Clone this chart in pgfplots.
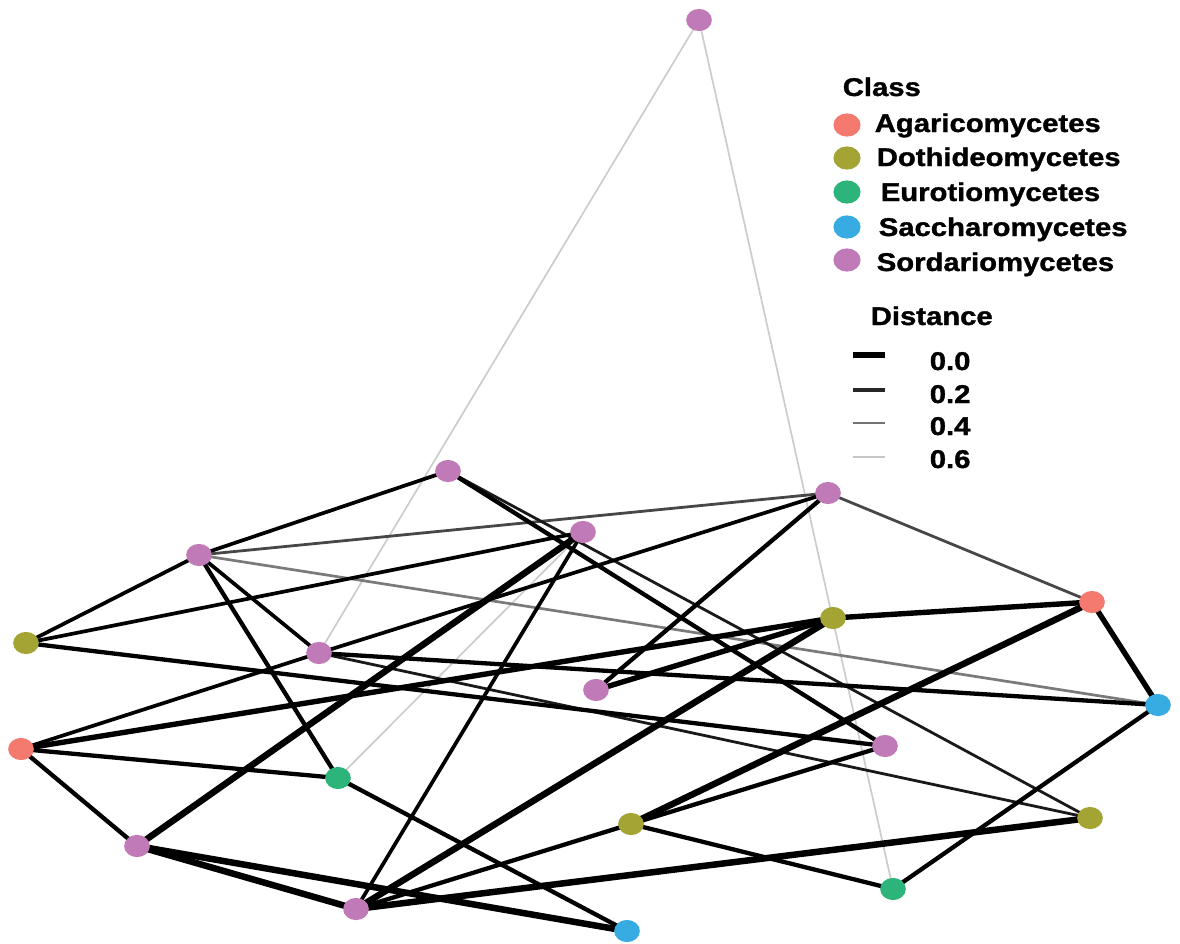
\documentclass[border=0pt]{standalone}
\usepackage{pgfplots}
\pgfplotsset{compat=1.18}
\usepackage{fontspec}
\setmainfont{Liberation Sans}

\definecolor{agar}{RGB}{244,122,112}
\definecolor{doth}{RGB}{163,164,52}
\definecolor{euro}{RGB}{45,180,122}
\definecolor{sacc}{RGB}{55,172,226}
\definecolor{sord}{RGB}{192,122,184}

% edge styles by distance
\pgfplotsset{
  dA/.style={no marks, black, line width=0.65mm},
  dB/.style={no marks, black, line width=0.54mm},
  dC/.style={no marks, black, line width=0.43mm},
  dD/.style={no marks, black, line width=0.37mm},
  dE/.style={no marks, black!90, line width=0.28mm},
  dF/.style={no marks, black!72, line width=0.28mm},
  dG/.style={no marks, black!52, line width=0.27mm},
  dH/.style={no marks, black!20, line width=0.17mm},
  vtx/.style={only marks, mark=*, mark size=2.95pt, mark options={draw=#1, fill=#1, xscale=1.17}},
  lgd/.style={only marks, mark=*, mark size=3.1pt, mark options={draw=#1, fill=#1, xscale=1.18}},
}
\newcommand{\lab}{\bfseries\addfontfeature{FakeBold=1.2}\fontsize{7.3}{8}\selectfont}
\tikzset{lt/.style={anchor=base west, inner sep=0pt, font=\lab, xscale=1.14}}

\begin{document}
\begin{tikzpicture}
\begin{axis}[hide axis, scale only axis, width=11.8cm, height=9.43cm,
  xmin=0, xmax=1180, ymin=0, ymax=943, y dir=reverse, clip=false]

% faint edges
\addplot[dH] coordinates {(699,20) (319,653)};
\addplot[dH] coordinates {(699,20) (893,889)};
\addplot[dH] coordinates {(338,778) (583,532)};
\addplot[dG] coordinates {(199,555) (1158,705)};
\addplot[dF] coordinates {(199,555) (828,493)};
\addplot[dF] coordinates {(828,493) (1092,602)};
\addplot[dE] coordinates {(448,471) (1090,818)};
\addplot[dE] coordinates {(319,653) (1090,818)};

% medium edges
\addplot[dD] coordinates {(21,749) (319,653)};
\addplot[dD] coordinates {(319,653) (828,493)};
\addplot[dD] coordinates {(583,532) (356,909)};
\addplot[dD] coordinates {(448,471) (199,555)};
\addplot[dD] coordinates {(199,555) (26,643)};
\addplot[dD] coordinates {(26,643) (583,532)};
\addplot[dD] coordinates {(199,555) (319,653)};

\addplot[dC] coordinates {(21,749) (338,778)};
\addplot[dC] coordinates {(21,749) (137,846)};
\addplot[dC] coordinates {(199,555) (338,778)};
\addplot[dC] coordinates {(338,778) (627,931)};
\addplot[dC] coordinates {(319,653) (1158,705)};
\addplot[dC] coordinates {(631,824) (893,889)};
\addplot[dC] coordinates {(1158,705) (893,889)};
\addplot[dC] coordinates {(26,643) (885,746)};
\addplot[dC] coordinates {(631,824) (885,746)};
\addplot[dC] coordinates {(448,471) (885,746)};
\addplot[dC] coordinates {(828,493) (596,690)};
\addplot[dC] coordinates {(356,909) (631,824)};

% strong edges
\addplot[dB] coordinates {(21,749) (833,618)};
\addplot[dB] coordinates {(596,690) (833,618)};
\addplot[dB] coordinates {(833,618) (1092,602)};
\addplot[dB] coordinates {(1092,602) (1158,705)};

\addplot[dA] coordinates {(631,824) (1092,602)};
\addplot[dA] coordinates {(137,846) (356,909)};
\addplot[dA] coordinates {(137,846) (627,931)};
\addplot[dA] coordinates {(137,846) (583,532)};
\addplot[dA] coordinates {(356,909) (1090,818)};
\addplot[dA] coordinates {(356,909) (833,618)};

% vertices
\addplot[vtx=agar] coordinates {(1092,602) (21,749)};
\addplot[vtx=doth] coordinates {(26,643) (833,618) (631,824) (1090,818)};
\addplot[vtx=euro] coordinates {(338,778) (893,889)};
\addplot[vtx=sacc] coordinates {(1158,705) (627,931)};
\addplot[vtx=sord] coordinates {(699,20) (448,471) (828,493) (583,532) (199,555)
  (319,653) (596,690) (885,746) (137,846) (356,909)};

% legend: class
\node[lt] at (axis cs:842,96) {Class};
\addplot[lgd=agar] coordinates {(847,125)};
\addplot[lgd=doth] coordinates {(847,158)};
\addplot[lgd=euro] coordinates {(847,192)};
\addplot[lgd=sacc] coordinates {(847,227)};
\addplot[lgd=sord] coordinates {(847,260)};
\node[lt] at (axis cs:874,132) {Agaricomycetes};
\node[lt] at (axis cs:876,166) {Dothideomycetes};
\node[lt] at (axis cs:880,201) {Eurotiomycetes};
\node[lt] at (axis cs:878,236) {Saccharomycetes};
\node[lt] at (axis cs:876,271) {Sordariomycetes};

% legend: distance
\node[lt] at (axis cs:870,325) {Distance};
\addplot[no marks, black, line width=0.52mm] coordinates {(853,355) (885,355)};
\addplot[no marks, black!85, line width=0.32mm] coordinates {(853,390) (885,390)};
\addplot[no marks, black!55, line width=0.26mm] coordinates {(853,423) (885,423)};
\addplot[no marks, black!22, line width=0.21mm] coordinates {(853,457) (885,457)};
\node[lt] at (axis cs:929,370) {0.0};
\node[lt] at (axis cs:929,403) {0.2};
\node[lt] at (axis cs:929,435) {0.4};
\node[lt] at (axis cs:929,468) {0.6};
\end{axis}
\pgfresetboundingbox
\path[use as bounding box] (current axis.south west) rectangle (current axis.north east);
\end{tikzpicture}
\end{document}
